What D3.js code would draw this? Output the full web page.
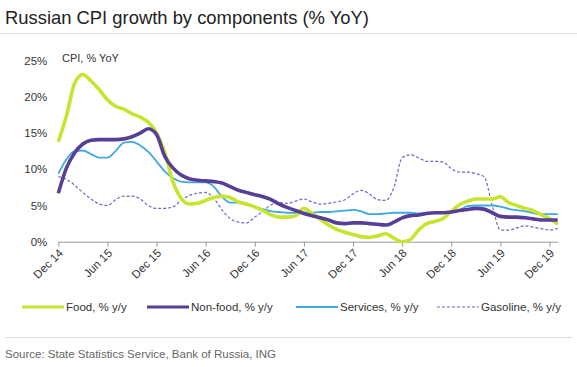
<!DOCTYPE html>
<html>
<head>
<meta charset="utf-8">
<script src="https://cdn.jsdelivr.net/npm/d3@7"></script>
<style>
body { margin: 0; background: #fff; }
svg { display: block; font-family: "Liberation Sans", Arial, sans-serif; }
</style>
</head>
<body>
<svg id="chart" width="577" height="367"></svg>
<script>
// monthly values, Dec 2014 .. Jan 2020
var food = [13.8, 17.4, 21.9, 23.1, 22.2, 21.0, 19.6, 18.7, 18.3, 17.7, 17.2, 16.5,
    15.0, 12.3, 8.3, 6.0, 5.2, 5.3, 5.7, 6.1, 6.3, 6.1, 5.5, 5.2,
    4.8, 4.3, 3.7, 3.4, 3.4, 3.6, 4.6, 3.9, 3.1, 2.3, 1.7, 1.3,
    1.0, 0.7, 0.6, 0.8, 1.1, 0.5, 0.0, 0.3, 1.6, 2.5, 2.8, 3.2,
    4.2, 5.1, 5.6, 5.9, 5.9, 5.9, 6.2, 5.4, 5.0, 4.6, 4.3, 3.7,
    3.2, 2.4];
var nonFood = [6.7, 10.2, 12.3, 13.5, 14.0, 14.1, 14.1, 14.1, 14.2, 14.5, 15.0, 15.6,
    14.8, 11.8, 10.2, 9.2, 8.7, 8.5, 8.4, 8.3, 8.1, 7.6, 7.1, 6.8,
    6.5, 6.2, 5.8, 5.2, 4.7, 4.3, 3.9, 3.6, 3.3, 3.0, 2.6, 2.5,
    2.6, 2.6, 2.5, 2.4, 2.3, 2.7, 3.3, 3.6, 3.7, 3.9, 4.0, 4.0,
    4.1, 4.3, 4.45, 4.6, 4.5, 4.0, 3.5, 3.4, 3.4, 3.3, 3.15, 3.0,
    3.0, 3.0];
var services = [9.4, 11.4, 12.5, 12.6, 12.1, 11.6, 11.6, 12.5, 13.7, 13.8, 13.3, 12.4,
    11.1, 9.7, 8.8, 8.3, 8.2, 8.2, 8.2, 7.6, 6.2, 5.4, 5.4, 5.1,
    4.8, 4.5, 4.2, 4.1, 4.0, 4.0, 4.0, 4.0, 4.1, 4.1, 4.2, 4.3,
    4.4, 4.2, 3.8, 3.8, 3.9, 4.0, 4.0, 4.0, 3.9, 4.0, 4.0, 4.0,
    4.1, 4.4, 4.9, 5.0, 5.0, 5.0, 4.85, 4.55, 4.35, 4.2, 3.95, 3.8,
    3.8, 3.8];
var gasoline = [9.0, 8.6, 7.8, 6.8, 5.9, 5.2, 5.0, 5.8, 6.3, 6.3, 5.9, 5.0,
    4.6, 4.6, 4.8, 5.7, 6.4, 6.7, 6.8, 6.0, 4.4, 3.2, 2.7, 2.6,
    3.4, 4.2, 5.1, 5.4, 5.3, 5.6, 5.9, 5.5, 5.2, 5.3, 5.5, 5.8,
    6.6, 7.1, 6.6, 5.8, 5.7, 7.5, 11.6, 12.0, 11.6, 11.1, 11.1, 11.0,
    10.1, 9.6, 9.6, 9.4, 9.0, 5.0, 1.6, 1.6, 1.9, 2.2, 2.0, 1.8,
    1.6, 1.85];

var tickLabels = ["Dec 14", "Jun 15", "Dec 15", "Jun 16", "Dec 16", "Jun 17",
    "Dec 17", "Jun 18", "Dec 18", "Jun 19", "Dec 19"];
var yTicks = [0, 5, 10, 15, 20, 25];

var seriesNames = ["Food, % y/y", "Non-food, % y/y", "Services, % y/y", "Gasoline, % y/y"];
var seriesColors = ["#c8e42e", "#573f98", "#3ea9e1", "#7566c0"];
var seriesWidths = [3.6, 3.6, 1.8, 1.2];
var seriesDash = [null, null, null, "3,2"];
var seriesData = [food, nonFood, services, gasoline];

var svg = d3.select("#chart");

// title + separator
svg.append("text")
    .attr("x", 5)
    .attr("y", 24)
    .style("font-size", "18.4px")
    .style("fill", "#222")
    .text("Russian CPI growth by components (% YoY)");

svg.append("line")
    .attr("x1", 0).attr("x2", 577)
    .attr("y1", 33.5).attr("y2", 33.5)
    .attr("stroke", "#e2e2e2");

// scales
var xScale = d3.scaleLinear().domain([0, 61]).range([58.3, 557.7]);
var yScale = d3.scaleLinear().domain([0, 25]).range([241.7, 60.7]);

// x axis
var xAxis = d3.axisBottom(xScale)
    .tickValues(d3.range(0, 61, 6))
    .tickFormat(function(d, i) { return tickLabels[i]; })
    .tickSizeInner(5)
    .tickSizeOuter(0);

var gx = svg.append("g")
    .attr("transform", "translate(0," + yScale(0) + ")")
    .call(xAxis);
gx.select(".domain").attr("stroke", "#9a9a9a");
gx.selectAll(".tick line").attr("stroke", "#9a9a9a");
gx.selectAll(".tick text")
    .style("font-size", "11.5px")
    .style("font-family", "'Liberation Sans', Arial, sans-serif")
    .attr("fill", "#333")
    .attr("text-anchor", "end")
    .attr("dy", null)
    .attr("y", 0)
    .attr("transform", "translate(5,12) rotate(-45)");

// y axis
var yAxis = d3.axisLeft(yScale)
    .tickValues(yTicks)
    .tickFormat(function(d) { return d + "%"; })
    .tickSize(0)
    .tickPadding(11);

var gy = svg.append("g")
    .attr("transform", "translate(58.3,0)")
    .call(yAxis);
gy.select(".domain").remove();
gy.selectAll(".tick text")
    .style("font-size", "11.5px")
    .style("font-family", "'Liberation Sans', Arial, sans-serif")
    .attr("fill", "#333");

svg.append("text")
    .attr("x", 62)
    .attr("y", 62)
    .style("font-size", "11px")
    .style("fill", "#333")
    .text("CPI, % YoY");

// lines
var line = d3.line()
    .x(function(d, i) { return xScale(i); })
    .y(function(d) { return yScale(d); })
    .curve(d3.curveMonotoneX);

// draw gasoline first so the thick lines sit on top
[3, 2, 0, 1].forEach(function(k) {
    svg.append("path")
        .datum(seriesData[k])
        .attr("fill", "none")
        .attr("stroke", seriesColors[k])
        .attr("stroke-width", seriesWidths[k])
        .attr("stroke-dasharray", seriesDash[k])
        .attr("stroke-linejoin", "round")
        .attr("d", line);
});

// legend
var legendX = [22, 147, 296, 437];
var legend = svg.append("g").attr("transform", "translate(0,307)");
seriesNames.forEach(function(name, k) {
    legend.append("line")
        .attr("x1", legendX[k]).attr("x2", legendX[k] + 42)
        .attr("y1", 0).attr("y2", 0)
        .attr("stroke", seriesColors[k])
        .attr("stroke-width", k < 2 ? 3 : (k == 2 ? 1.8 : 1.2))
        .attr("stroke-dasharray", seriesDash[k]);
    legend.append("text")
        .attr("x", legendX[k] + 44)
        .attr("y", 4)
        .style("font-size", "11.5px")
        .style("fill", "#333")
        .text(name);
});

// footer
svg.append("line")
    .attr("x1", 5).attr("x2", 572)
    .attr("y1", 337.5).attr("y2", 337.5)
    .attr("stroke", "#dcdcdc");

svg.append("text")
    .attr("x", 5)
    .attr("y", 358)
    .style("font-size", "11.5px")
    .style("fill", "#666")
    .text("Source: State Statistics Service, Bank of Russia, ING");
</script>
</body>
</html>
